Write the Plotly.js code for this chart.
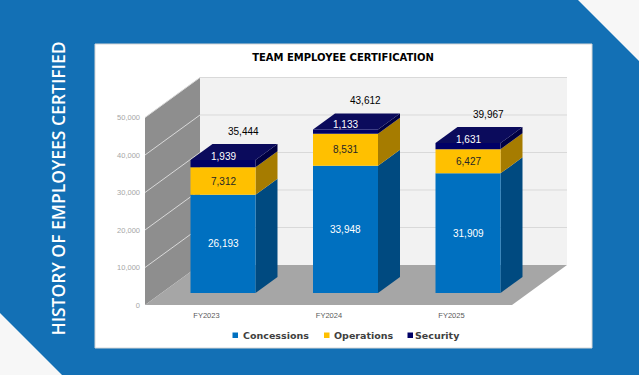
<!DOCTYPE html>
<html><head><meta charset="utf-8">
<script src="https://cdn.plot.ly/plotly-3.0.1.min.js"></script>
<style>html,body{margin:0;padding:0;background:#1370B5;overflow:hidden}</style>
</head><body>
<div id="chart" style="width:639px;height:375px"></div>
<script>
// ---- data ----
const categories = ['FY2023', 'FY2024', 'FY2025'];
const concessions = [26193, 33948, 31909];
const operations = [7312, 8531, 6427];
const security = [1939, 1133, 1631];
const seriesNames = ['Concessions', 'Operations', 'Security'];
const yTicks = [0, 10000, 20000, 30000, 40000, 50000];
const chartTitle = 'TEAM EMPLOYEE CERTIFICATION';
const sideTitle = 'HISTORY OF EMPLOYEES CERTIFIED';

// ---- geometry / style ----
const L = 145, R = 567, T = 76, B = 305;
const VPP = 10000 / 37.5;           // value units per pixel
const yMax = (B - T) * VPP;
const DX = 55, DY = 40 * VPP;       // depth of the 3D box
const f0 = 0.3, f1 = 0.7;           // bar depth position
const barW = 65, barStart = 223, barStep = 122.5;
const series = [concessions, operations, security];
const frontC = ['#0070C0', '#FFC000', '#000066'];
const sideC = ['#004A80', '#A67C00', '#000042'];
const topC = '#0B0B5C';
const labC = ['#FFFFFF', '#262626', '#FFFFFF'];
const PX = x => (x - L) / (R - L);
const PY = y => (B - y) / (B - T);
const fmt = v => v.toLocaleString('en-US');

const cx = categories.map((c, i) => barStart + i * barStep);
const baseOff = f0 * DY;
const sDX = (f1 - f0) * DX, sDY = (f1 - f0) * DY;
const totals = categories.map((c, i) => series.reduce((s, a) => s + a[i], 0));
const bases = series.map((arr, k) => arr.map((v, i) => baseOff + series.slice(0, k).reduce((s, a) => s + a[i], 0)));

const traces = series.map((arr, k) => ({
  type: 'bar', name: seriesNames[k], x: cx, y: arr, base: bases[k], width: barW,
  marker: {color: frontC[k], line: {width: 0}}, showlegend: false, hoverinfo: 'y+name'
}));

const shapes = [];
// background decorations
shapes.push({type: 'path', xref: 'paper', yref: 'paper', layer: 'below', line: {width: 0}, fillcolor: '#F7F7F7',
  path: `M${PX(578)},${PY(0)} L${PX(640)},${PY(0)} L${PX(640)},${PY(62)} Z`});
shapes.push({type: 'path', xref: 'paper', yref: 'paper', layer: 'below', line: {width: 0}, fillcolor: '#F7F7F7',
  path: `M${PX(-1)},${PY(312)} L${PX(63)},${PY(376)} L${PX(-1)},${PY(376)} Z`});
shapes.push({type: 'rect', xref: 'paper', yref: 'paper', layer: 'below', fillcolor: '#FFFFFF', line: {color: '#D6D6D6', width: 1},
  x0: PX(95), x1: PX(592), y0: PY(348), y1: PY(44)});
// walls and floor
const wallTop = yTicks[yTicks.length - 1];
shapes.push({type: 'path', layer: 'below', line: {width: 0}, fillcolor: '#8E8E8E',
  path: `M${L},0 L${L},${wallTop} L${L + DX},${wallTop + DY} L${L + DX},${DY} Z`});
shapes.push({type: 'rect', layer: 'below', line: {width: 0}, fillcolor: '#F2F2F2',
  x0: L + DX, x1: R, y0: DY, y1: wallTop + DY});
shapes.push({type: 'path', layer: 'below', line: {width: 0}, fillcolor: '#A6A6A6',
  path: `M${L},0 L${R - DX},0 L${R},${DY} L${L + DX},${DY} Z`});
yTicks.slice(1).forEach(v => {
  shapes.push({type: 'line', layer: 'below', line: {color: '#D9D9D9', width: 1}, x0: L, y0: v, x1: L + DX, y1: v + DY});
  shapes.push({type: 'line', layer: 'below', line: {color: '#D9D9D9', width: 1}, x0: L + DX, y0: v + DY, x1: R, y1: v + DY});
});
// bar sides and tops
categories.forEach((c, i) => {
  const xr = cx[i] + barW / 2, xl = cx[i] - barW / 2;
  series.forEach((arr, k) => {
    const b0 = bases[k][i], b1 = b0 + arr[i];
    shapes.push({type: 'path', layer: 'below', line: {width: 0}, fillcolor: sideC[k],
      path: `M${xr},${b0} L${xr + sDX},${b0 + sDY} L${xr + sDX},${b1 + sDY} L${xr},${b1} Z`});
  });
  const tp = baseOff + totals[i];
  shapes.push({type: 'path', layer: 'below', line: {width: 0}, fillcolor: topC,
    path: `M${xl},${tp} L${xr},${tp} L${xr + sDX},${tp + sDY} L${xl + sDX},${tp + sDY} Z`});
});

const annotations = [];
const labFont = {family: 'Liberation Sans, Arial, sans-serif', size: 10};
categories.forEach((c, i) => {
  series.forEach((arr, k) => {
    annotations.push({x: cx[i], y: bases[k][i] + arr[i] / 2, text: fmt(arr[i]), showarrow: false,
      yshift: k === 2 ? 7 : 0, font: Object.assign({}, labFont, {color: labC[k]})});
  });
  annotations.push({x: cx[i] + 20, y: baseOff + totals[i] + sDY, yshift: 13, text: fmt(totals[i]), showarrow: false,
    font: Object.assign({}, labFont, {color: '#000000'})});
});
annotations.push({xref: 'paper', yref: 'paper', x: PX(43), y: PY(188.5), text: sideTitle, textangle: -90, showarrow: false,
  font: {family: 'Open Sans, sans-serif', size: 17.5, color: '#FFFFFF', weight: 600}});
// legend
const legX = [232.5, 324, 407.5], legTxt = [240.5, 332, 413];
seriesNames.forEach((n, k) => {
  shapes.push({type: 'rect', xref: 'paper', yref: 'paper', line: {width: 0}, fillcolor: frontC[k],
    x0: PX(legX[k]), x1: PX(legX[k] + 5.5), y0: PY(338), y1: PY(332.5)});
  annotations.push({xref: 'paper', yref: 'paper', x: PX(legTxt[k]), y: PY(335), xanchor: 'left', yanchor: 'middle',
    text: n, showarrow: false, font: {family: 'DejaVu Sans, sans-serif', size: 9.5, color: '#404040', weight: 'bold'}});
});

const layout = {
  width: 639, height: 375,
  margin: {l: L, r: 639 - R, t: T, b: 375 - B, pad: 0},
  paper_bgcolor: '#1370B5', plot_bgcolor: 'rgba(0,0,0,0)',
  title: {text: chartTitle, x: 343 / 639, xref: 'container', xanchor: 'center', y: 1 - 57.5 / 375, yref: 'container', yanchor: 'middle',
    font: {family: 'DejaVu Sans, sans-serif', size: 10, color: '#000000', weight: 'bold'}},
  barmode: 'overlay', showlegend: false,
  xaxis: {range: [L, R], tickvals: cx.map(x => x - f0 * DX), ticktext: categories, showgrid: false, zeroline: false, showline: false,
    ticks: '', ticklabelstandoff: 4, tickfont: {family: 'Liberation Sans, Arial, sans-serif', size: 7.5, color: '#595959'}, fixedrange: true},
  yaxis: {range: [0, yMax], tickvals: yTicks, ticktext: yTicks.map(fmt), showgrid: false, zeroline: false, showline: false,
    ticks: '', ticklabelstandoff: 4, tickfont: {family: 'Liberation Sans, Arial, sans-serif', size: 7.5, color: '#A6A6A6'}, fixedrange: true},
  shapes: shapes, annotations: annotations
};
Plotly.newPlot('chart', traces, layout, {displayModeBar: false, staticPlot: true});
</script>
</body></html>
